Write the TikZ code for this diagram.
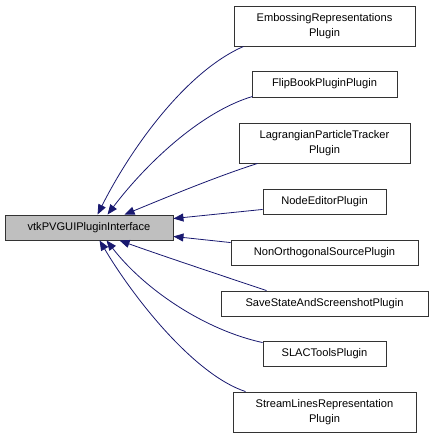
\documentclass[tikz,border=0pt]{standalone}
\usepackage{fontspec}
\setmainfont{Liberation Sans}
\usetikzlibrary{arrows.meta,calc}
\definecolor{edgeblue}{HTML}{191970}
\begin{document}
\begin{tikzpicture}[x=1pt,y=-1pt,
  box/.style={draw=black!80,line width=0.9pt,rectangle,inner sep=0pt,align=center,font=\fontsize{11.1}{15}\selectfont},
  edge/.style={draw=edgeblue,line width=0.8pt,-{Triangle[length=10pt,width=8pt]},fill=none}]
\useasboundingbox (0,0) rectangle (433,439);
\node[box,minimum width=181,minimum height=40] (emb) at (324.5,26) {EmbossingRepresentations\\Plugin};
\node[box,minimum width=145,minimum height=26] (flip) at (324.5,84) {FlipBookPluginPlugin};
\node[box,minimum width=171,minimum height=40] (lag) at (324.5,143) {LagrangianParticleTracker\\Plugin};
\node[box,minimum width=123,minimum height=25] (nodeed) at (324.5,201.5) {NodeEditorPlugin};
\node[box,minimum width=168,minimum height=25,fill=black!25] (main) at (89,227.5) {vtkPVGUIPluginInterface};
\node[box,minimum width=187,minimum height=25] (nonorth) at (324.5,252.5) {NonOrthogonalSourcePlugin};
\node[box,minimum width=207,minimum height=25] (save) at (324.5,303.5) {SaveStateAndScreenshotPlugin};
\node[box,minimum width=123,minimum height=25] (slac) at (324.5,353.5) {SLACToolsPlugin};
\node[box,minimum width=183,minimum height=40] (stream) at (324.5,412) {StreamLinesRepresentation\\Plugin};

\draw[edge] ($(emb.south west)+(10,0)$) .. controls (185,72) and (130,150) .. ($(main.north west)+(93,0)$);
\draw[edge] ($(flip.south west)+(1,-1)$) .. controls (200,112) and (145,165) .. ($(main.north west)+(103,0)$);
\draw[edge] ($(lag.south west)+(19,0)$) .. controls (215,177) and (160,200) .. ($(main.north west)+(120,0)$);
\draw[edge] ($(nodeed.south west)+(0,-5)$) -- ($(main.north east)+(0,4)$);
\draw[edge] ($(nonorth.north west)+(0,3)$) -- ($(main.south east)+(0,-4)$);
\draw[edge] ($(save.north west)+(46,0)$) .. controls (220,275) and (160,255) .. ($(main.south west)+(115,0)$);
\draw[edge] ($(slac.north west)+(0,2)$) .. controls (205,330) and (145,290) .. ($(main.south west)+(102,0)$);
\draw[edge] ($(stream.north west)+(13,0)$) .. controls (195,375) and (135,300) .. ($(main.south west)+(95,0)$);
\end{tikzpicture}
\end{document}
